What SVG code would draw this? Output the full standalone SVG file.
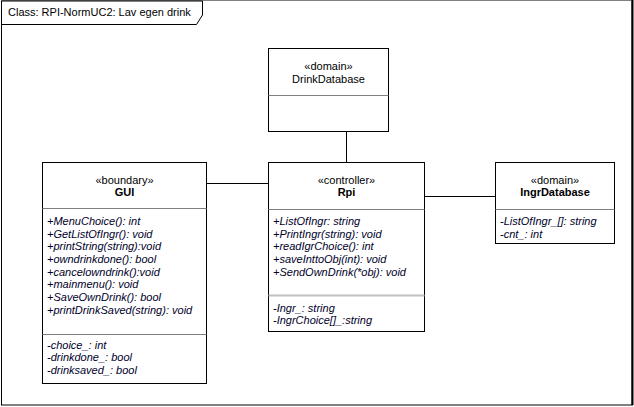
<svg xmlns="http://www.w3.org/2000/svg" width="634" height="407" viewBox="0 0 634 407">
<defs>
<style>
text{font-family:"Liberation Sans",Arial,sans-serif;font-size:11px;fill:#000}
.c{text-anchor:middle}
.b{font-weight:bold}
.m{font-style:italic;fill:#00002a}
.box{fill:#fff;stroke:#000;stroke-width:1}
.div{stroke:#808080;stroke-width:1}
.conn{stroke:#000;stroke-width:1;fill:none}
</style>
</defs>
<rect x="0" y="0" width="634" height="407" fill="#fff"/>
<g id="frame">
<rect x="1.5" y="0.5" width="630.5" height="404.5" fill="none" stroke="#000" stroke-width="1"/>
<line x1="1" y1="0.5" x2="633" y2="0.5" stroke="#808080"/>
<line x1="1" y1="405.5" x2="633" y2="405.5" stroke="#808080"/>
<line x1="632.5" y1="0" x2="632.5" y2="405" stroke="#000" stroke-width="2"/>
<path d="M1.5,1 H202.5 V15 L196.5,24.5 H1.5" fill="none" stroke="#000"/>
<text x="8" y="16">Class: RPI-NormUC2: Lav egen drink</text>
</g>
<g id="connectors">
<line class="conn" x1="207" y1="183.5" x2="268" y2="183.5"/>
<line class="conn" x1="346.5" y1="132" x2="346.5" y2="162"/>
<line class="conn" x1="425" y1="196.5" x2="495" y2="196.5"/>
</g>
<g id="DrinkDatabase">
<rect class="box" x="268.5" y="48.5" width="120" height="83"/>
<line class="div" x1="268.5" y1="95.5" x2="388.5" y2="95.5"/>
<text class="c" x="328.5" y="70">«domain»</text>
<text class="c" x="328.5" y="82.5">DrinkDatabase</text>
</g>
<g id="GUI">
<rect class="box" x="42.5" y="162.5" width="164" height="221"/>
<line class="div" x1="42.5" y1="208.5" x2="206.5" y2="208.5"/>
<line class="div" x1="42.5" y1="334.5" x2="206.5" y2="334.5"/>
<text class="c" x="124.5" y="184">«boundary»</text>
<text class="c b" x="124.5" y="196">GUI</text>
<text class="m" x="47" y="225">+MenuChoice(): int</text>
<text class="m" x="47" y="237.7">+GetListOfIngr(): void</text>
<text class="m" x="47" y="250.3">+printString(string):void</text>
<text class="m" x="47" y="263">+owndrinkdone(): bool</text>
<text class="m" x="47" y="275.7">+cancelowndrink():void</text>
<text class="m" x="47" y="288.3">+mainmenu(): void</text>
<text class="m" x="47" y="301">+SaveOwnDrink(): bool</text>
<text class="m" x="47" y="313.7">+printDrinkSaved(string): void</text>
<text class="m" x="47" y="348.5">-choice_: int</text>
<text class="m" x="47" y="361.2">-drinkdone_: bool</text>
<text class="m" x="47" y="373.8">-drinksaved_: bool</text>
</g>
<g id="Rpi">
<rect class="box" x="268.5" y="162.5" width="156" height="169"/>
<line class="div" x1="268.5" y1="209.5" x2="424.5" y2="209.5"/>
<line x1="268.5" y1="295.5" x2="424.5" y2="295.5" stroke="#c0c0c0" stroke-width="2"/>
<text class="c" x="346.5" y="183.5">«controller»</text>
<text class="c b" x="346.5" y="196">Rpi</text>
<text class="m" x="273" y="225">+ListOfIngr: string</text>
<text class="m" x="273" y="237.7">+PrintIngr(string): void</text>
<text class="m" x="273" y="250.3">+readIgrChoice(): int</text>
<text class="m" x="273" y="263">+saveInttoObj(int): void</text>
<text class="m" x="273" y="275.7">+SendOwnDrink(*obj): void</text>
<text class="m" x="273" y="311.5">-Ingr_: string</text>
<text class="m" x="273" y="324">-IngrChoice[]_:string</text>
</g>
<g id="IngrDatabase">
<rect class="box" x="495.5" y="162.5" width="119" height="81"/>
<line class="div" x1="495.5" y1="209.5" x2="614.5" y2="209.5"/>
<text class="c" x="555" y="183.5">«domain»</text>
<text class="c b" x="555" y="196">IngrDatabase</text>
<text class="m" x="500" y="225">-ListOfIngr_[]: string</text>
<text class="m" x="500" y="237.7">-cnt_: int</text>
</g>
</svg>
